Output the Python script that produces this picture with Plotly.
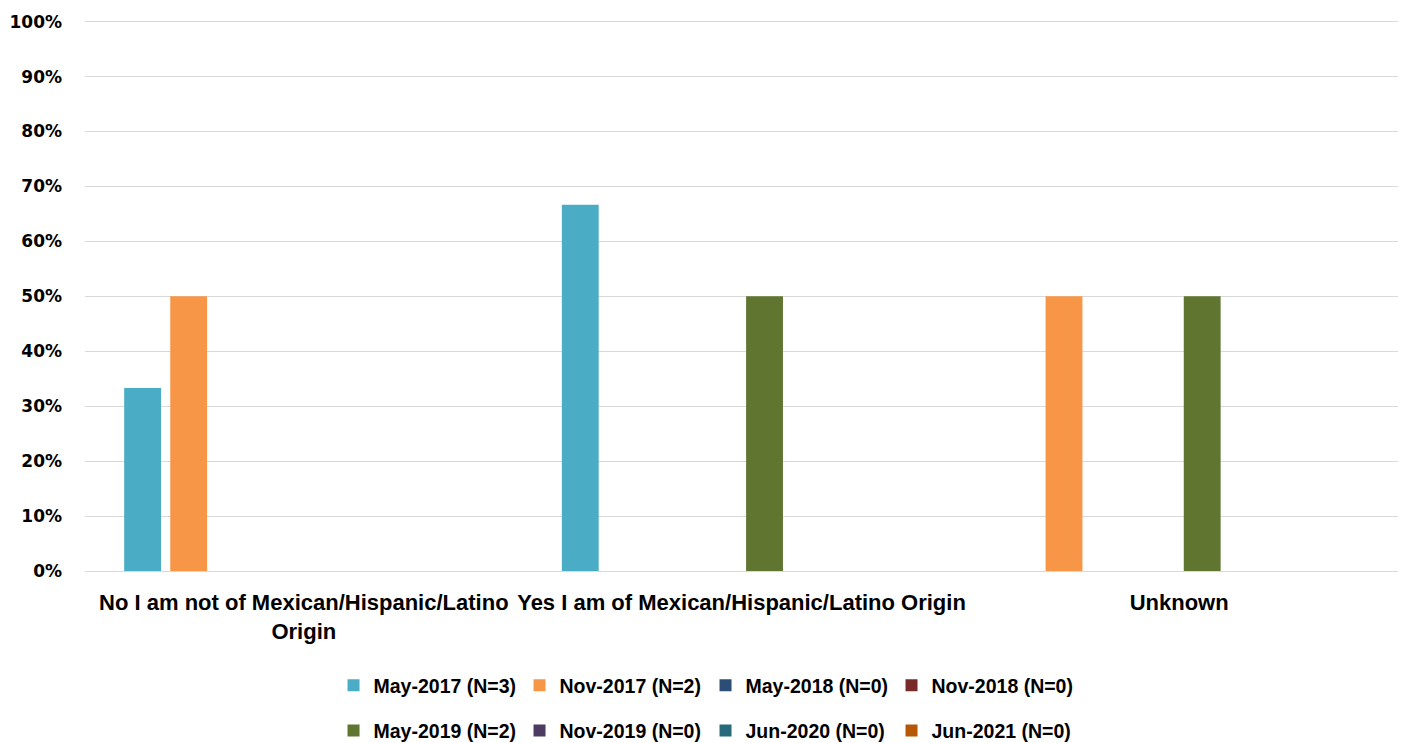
import plotly.graph_objects as go

categories = ["No I am not of Mexican/Hispanic/Latino<br>Origin",
              "Yes I am of Mexican/Hispanic/Latino Origin",
              "Unknown"]
series_names = ["May-2017 (N=3)", "Nov-2017 (N=2)", "May-2018 (N=0)", "Nov-2018 (N=0)",
                "May-2019 (N=2)", "Nov-2019 (N=0)", "Jun-2020 (N=0)", "Jun-2021 (N=0)"]
may2017 = [0.3333, 0.6667, None]
nov2017 = [0.50, None, 0.50]
may2018 = [None, None, None]
nov2018 = [None, None, None]
may2019 = [None, 0.50, 0.50]
nov2019 = [None, None, None]
jun2020 = [None, None, None]
jun2021 = [None, None, None]
series_values = [may2017, nov2017, may2018, nov2018, may2019, nov2019, jun2020, jun2021]
colors = ["#4BACC6", "#F79646", "#2C4D75", "#772C2A", "#5F7530", "#4D3B62", "#276A7C", "#B65708"]

LBL_FONT = "Liberation Sans, Arial, sans-serif"

fig = go.Figure()
for i, (name, vals, col) in enumerate(zip(series_names, series_values, colors)):
    fig.add_trace(go.Bar(
        x=categories, y=vals, name=name, marker_color=col,
        marker_line_width=0,
        legend="legend" if i < 4 else "legend2",
    ))

fig.update_layout(
    width=1411, height=743,
    margin=dict(l=85, r=13, t=20, b=172, autoexpand=False),
    plot_bgcolor="white", paper_bgcolor="white",
    barmode="group", bargap=0.158, bargroupgap=0.2,
    font=dict(family=LBL_FONT, size=19, color="black"),
    yaxis=dict(range=[0, 1.003], tickformat=".0%", tickvals=[i / 10 for i in range(11)],
               showgrid=True, gridcolor="#D9D9D9", gridwidth=1, automargin=False,
               zeroline=False, showline=False, ticks="", ticklen=0,
               tickfont=dict(family="DejaVu Sans", size=17, color="black", weight="bold"),
               ticklabelstandoff=22),
    xaxis=dict(showline=True, linecolor="#D9D9D9", linewidth=1, ticks="", automargin=False,
               ticklabelstandoff=12,
               tickfont=dict(family=LBL_FONT, size=22, color="black", weight="bold")),
    legend=dict(orientation="h", x=0.4726, xanchor="center", y=-0.208, yanchor="middle",
                entrywidth=141, font=dict(family=LBL_FONT, size=19.5, weight="bold"),
                itemwidth=30, traceorder="normal"),
    legend2=dict(orientation="h", x=0.4726, xanchor="center", y=-0.29, yanchor="middle",
                 entrywidth=141, font=dict(family=LBL_FONT, size=19.5, weight="bold"),
                 itemwidth=30, traceorder="normal"),
)

fig.write_html("out.html", config={"displayModeBar": False},
               post_script="document.body.style.margin='0';")
